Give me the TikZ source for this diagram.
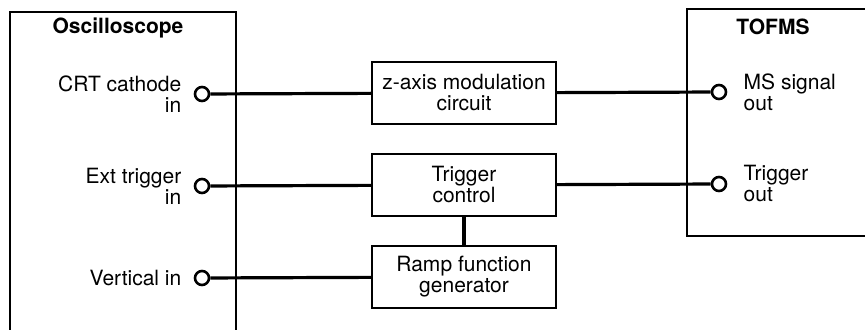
\documentclass[tikz,border=0pt]{standalone}
\usepackage{fontspec}
\setmainfont{TeX Gyre Heros}
\usetikzlibrary{positioning}
\begin{document}
\begin{tikzpicture}[x=0.5pt, y=-0.5pt, font=\fontsize{10.5}{10.5}\selectfont,
    block/.style={draw, line width=1pt, minimum width=92pt, minimum height=31pt, align=center, inner sep=1pt},
    jack/.style={circle, draw, line width=1.3pt, fill=white, minimum size=7pt, inner sep=0pt},
    lbl/.style={inner sep=1pt},
    wire/.style={line width=1.6pt}]
        \useasboundingbox (0,0) rectangle (865,330);
        % instrument frames
        \draw[line width=1pt] (10,335) -- (10,12) -- (236,12) -- (236,335);
        \draw[line width=1pt] (870,9) -- (687,9) -- (687,236) -- (870,236);
        \node[font=\fontsize{10.5}{10.5}\selectfont\bfseries] (osc) at (118,28) {Oscilloscope};
        \node[font=\fontsize{10.5}{10.5}\selectfont\bfseries] (tofms) at (773,27) {TOFMS};
        % middle blocks
        \node[block] (zaxis) at (464,93) {z-axis modulation\\circuit};
        \node[block] (trig) at (464,185) {Trigger\\control};
        \node[block] (ramp) at (464,277) {Ramp function\\generator};
        % jacks
        \node[jack] (crtin) at (202,94) {};
        \node[jack] (extin) at (202,186) {};
        \node[jack] (vertin) at (202,278) {};
        \node[jack] (msout) at (719,92) {};
        \node[jack] (trigout) at (719,184) {};
        \node[lbl, align=right, left=5pt of crtin] {CRT cathode\\in};
        \node[lbl, align=right, left=5pt of extin] {Ext trigger\\in};
        \node[lbl, align=right, left=5pt of vertin] {Vertical in};
        \node[lbl, align=left, right=7pt of msout] {MS signal\\out};
        \node[lbl, align=left, right=7pt of trigout] {Trigger\\out};
        % wiring
        \draw[wire] (crtin) -- (zaxis);
        \draw[wire] (zaxis) -- (msout);
        \draw[wire] (extin) -- (trig);
        \draw[wire] (trig) -- (trigout);
        \draw[wire] (vertin) -- (ramp);
        \draw[wire] (trig) -- (ramp);
    \end{tikzpicture}
\end{document}
